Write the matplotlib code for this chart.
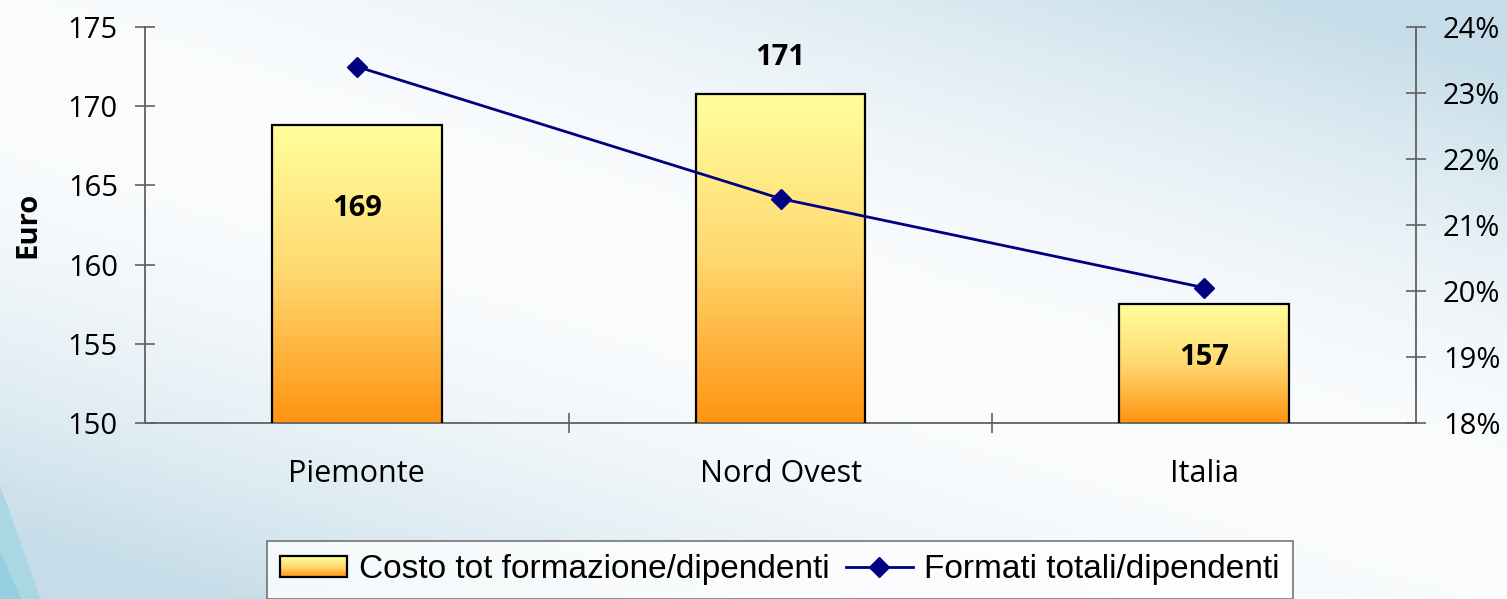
import numpy as np
import matplotlib.pyplot as plt
from matplotlib.colors import LinearSegmentedColormap
from matplotlib.legend_handler import HandlerBase
from matplotlib.patches import Rectangle
from matplotlib.lines import Line2D

categories = ["Piemonte", "Nord Ovest", "Italia"]
costo = [168.8, 170.8, 157.5]
costo_labels = ["169", "171", "157"]
formati = [0.234, 0.214, 0.2005]

bar_cmap = LinearSegmentedColormap.from_list("bar", ["#ff9410", "#ffd870", "#ffff9c"])
navy = "#000080"
axis_gray = "#606060"

plt.rcParams["font.family"] = ["Open Sans", "DejaVu Sans"]

fig = plt.figure(figsize=(15.07, 5.99), dpi=100)

# background gradient: whitish band on the diagonal, bluish corners
bg = fig.add_axes([0, 0, 1, 1], zorder=-10)
xx, yy = np.meshgrid(np.linspace(0, 1, 300), np.linspace(0, 1, 120))
d = np.abs(xx - yy * 1.3 + 0.15)
t = np.clip(d, 0, 1) ** 1.8
white = np.array([0.985, 0.99, 0.995])
blue = np.array([0.78, 0.87, 0.915])
img = white + (blue - white) * t[..., None]
bg.imshow(img, extent=[0, 1, 0, 1], aspect="auto", origin="upper")
# thin cyan streaks in the lower left corner
bg.fill([0, 0.0, 0.027, 0.012], [0.02, 0.19, 0.0, 0.0],
        color="#a0d4e2", alpha=0.7, lw=0)
bg.fill([0, 0.0, 0.014], [0.0, 0.08, 0.0], color="#8ccfe0", alpha=0.8, lw=0)
bg.set_xlim(0, 1)
bg.set_ylim(0, 1)
bg.axis("off")

ax = fig.add_axes([145 / 1507, 1 - 423 / 599, 1271 / 1507, 396 / 599])
ax.patch.set_alpha(0)
x = np.arange(len(categories))
bars = ax.bar(x, costo, width=0.4, bottom=0, facecolor="none",
              edgecolor="black", linewidth=1.6, zorder=3)
ax.set_xlim(-0.5, 2.5)
ax.set_ylim(150, 175)

grad = np.linspace(0, 1, 256).reshape(-1, 1)
for b in bars:
    x0, w, h = b.get_x(), b.get_width(), b.get_height()
    im = ax.imshow(grad, cmap=bar_cmap, origin="lower", aspect="auto",
                   extent=[x0, x0 + w, 150, h], zorder=2)
    im.set_clip_path(b)

label_y = [163.55, 173.05, 154.15]
for xi, ly, txt in zip(x, label_y, costo_labels):
    ax.text(xi, ly, txt, ha="center", va="center", fontsize=21,
            fontweight="bold", zorder=5)

for s in ["top", "right"]:
    ax.spines[s].set_visible(False)
for s in ["left", "bottom"]:
    ax.spines[s].set_color(axis_gray)
    ax.spines[s].set_linewidth(1.3)
ax.set_yticks(range(150, 176, 5))
ax.tick_params(axis="y", direction="inout", length=15, width=1.2,
               color=axis_gray, labelsize=21, pad=12)
ax.set_xticks(x)
ax.set_xticklabels(categories)
ax.tick_params(axis="x", length=0, labelsize=22, pad=26)
ax.set_xticks([0.5, 1.5], minor=True)
ax.tick_params(axis="x", which="minor", direction="inout", length=15,
               width=1.2, color=axis_gray)
ax.set_ylabel("Euro", fontsize=21, fontweight="bold", labelpad=18)

ax2 = ax.twinx()
ax2.plot(x, formati, color=navy, linewidth=2, marker="D", markersize=10,
         zorder=4)
ax2.set_ylim(0.18, 0.24)
ax2.set_yticks(np.arange(0.18, 0.2401, 0.01))
ax2.set_yticklabels([f"{v}%" for v in range(18, 25)])
for s in ["top", "left", "bottom"]:
    ax2.spines[s].set_visible(False)
ax2.spines["right"].set_color(axis_gray)
ax2.spines["right"].set_linewidth(1.3)
ax2.tick_params(axis="y", direction="inout", length=15, width=1.2,
                color=axis_gray, labelsize=21, pad=12)


class GradientBarHandler(HandlerBase):
    def create_artists(self, legend, orig_handle, xdescent, ydescent,
                       width, height, fontsize, trans):
        n = 20
        arts = []
        for i in range(n):
            r = Rectangle((-xdescent, -ydescent + height * i / n), width,
                          height / n + 0.3, facecolor=bar_cmap(i / (n - 1)),
                          edgecolor="none", transform=trans)
            arts.append(r)
        arts.append(Rectangle((-xdescent, -ydescent), width, height,
                              facecolor="none", edgecolor="black",
                              linewidth=1.6, transform=trans))
        return arts


bar_handle = Rectangle((0, 0), 1, 1)
line_handle = Line2D([], [], color=navy, linewidth=2, marker="D", markersize=10)
leg = fig.legend([bar_handle, line_handle],
                 ["Costo tot formazione/dipendenti", "Formati totali/dipendenti"],
                 handler_map={Rectangle: GradientBarHandler()},
                 loc="upper center", bbox_to_anchor=(780 / 1507, 1 - 541 / 599),
                 ncol=2, frameon=True, fancybox=False,
                 prop={"family": "Liberation Sans", "size": 24},
                 handlelength=2.0, handleheight=0.6, handletextpad=0.35,
                 columnspacing=0.5, borderpad=0.4, borderaxespad=0)
leg.get_frame().set_edgecolor("#555555")
leg.get_frame().set_linewidth(1.2)
leg.get_frame().set_facecolor("white")

fig.savefig("out.png", dpi=100)
